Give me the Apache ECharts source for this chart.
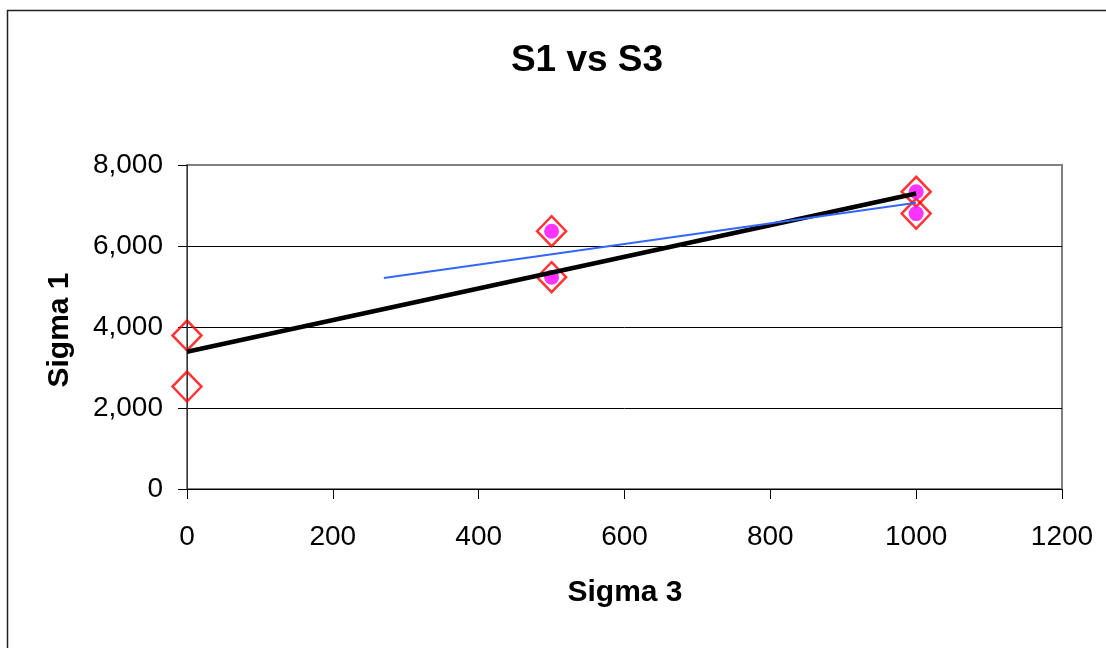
<!DOCTYPE html>
<html>
<head>
<meta charset="utf-8">
<style>
  html, body { margin: 0; padding: 0; background: #fff; }
  #chart { width: 1106px; height: 648px; }
</style>
<script src="https://cdn.jsdelivr.net/npm/echarts@6/dist/echarts.min.js"></script>
</head>
<body>
<div id="chart"></div>
<script>
// Test readings: Sigma 3 (confining) vs Sigma 1 (failure)
const sigma3All = [0, 0, 500, 500, 1000, 1000];
const sigma1All = [3790, 2530, 6365, 5230, 7340, 6800];

// Subset shown with filled markers
const sigma3Sub = [500, 500, 1000, 1000];
const sigma1Sub = [6365, 5230, 7340, 6800];

// Axis ranges / ticks
const xTicks = [0, 200, 400, 600, 800, 1000, 1200];
const yTicks = [0, 2000, 4000, 6000, 8000];

// Blue trend line is extended backwards to this Sigma 3
const subTrendStart = 270;

const FONT = 'Liberation Sans, Arial, sans-serif';

function linFit(xs, ys) {
  const n = xs.length;
  const mx = xs.reduce((a, b) => a + b, 0) / n;
  const my = ys.reduce((a, b) => a + b, 0) / n;
  let sxy = 0, sxx = 0;
  for (let i = 0; i < n; i++) {
    sxy += (xs[i] - mx) * (ys[i] - my);
    sxx += (xs[i] - mx) * (xs[i] - mx);
  }
  const slope = sxy / sxx;
  return { slope, intercept: my - slope * mx };
}

const fitAll = linFit(sigma3All, sigma1All);
const fitSub = linFit(sigma3Sub, sigma1Sub);
const xMinAll = Math.min(...sigma3All), xMaxAll = Math.max(...sigma3All);
const xMaxSub = Math.max(...sigma3Sub);

const trendAll = [xMinAll, xMaxAll].map(x => [x, fitAll.intercept + fitAll.slope * x]);
const trendSub = [subTrendStart, xMaxSub].map(x => [x, fitSub.intercept + fitSub.slope * x]);

const chart = echarts.init(document.getElementById('chart'), null, { renderer: 'canvas' });

chart.setOption({
  backgroundColor: '#fff',
  animation: false,
  title: {
    text: 'S1 vs S3',
    left: 582, top: 56, textAlign: 'center', textVerticalAlign: 'middle',
    textStyle: { fontFamily: FONT, fontSize: 37, fontWeight: 'bold', color: '#000' }
  },
  grid: {
    left: 187, top: 165, right: 44, bottom: 159,
    show: true, backgroundColor: '#fff', borderColor: '#808080', borderWidth: 2
  },
  xAxis: {
    type: 'value',
    min: xTicks[0], max: xTicks[xTicks.length - 1], interval: xTicks[1] - xTicks[0],
    axisLine: { show: true, onZero: false, lineStyle: { color: '#000', width: 1 } },
    axisTick: { show: true, inside: false, length: 10, lineStyle: { color: '#000' } },
    axisLabel: { margin: 34, fontFamily: FONT, fontSize: 28, color: '#000', formatter: v => String(v) },
    splitLine: { show: false }
  },
  yAxis: {
    type: 'value',
    min: yTicks[0], max: yTicks[yTicks.length - 1], interval: yTicks[1] - yTicks[0],
    axisLine: { show: true, onZero: false, lineStyle: { color: '#333', width: 1 } },
    axisTick: { show: true, inside: false, length: 9, lineStyle: { color: '#000' } },
    axisLabel: {
      margin: 24, fontFamily: FONT, fontSize: 28, color: '#000',
      formatter: v => v.toLocaleString('en-US')
    },
    splitLine: { show: true, showMaxLine: false, lineStyle: { color: '#000', width: 1 } }
  },
  graphic: [
    {
      type: 'rect', silent: true, z: -1,
      shape: { x: 7.5, y: 10.5, width: 1300, height: 900 },
      style: { fill: 'none', stroke: '#222', lineWidth: 1.5 }
    },
    {
      type: 'text', x: 625, y: 593,
      style: { text: 'Sigma 3', fontFamily: FONT, fontSize: 30, fontWeight: 'bold', fill: '#000', align: 'center', verticalAlign: 'middle' }
    },
    {
      type: 'text', x: 60, y: 330, rotation: Math.PI / 2,
      style: { text: 'Sigma 1', fontFamily: FONT, fontSize: 30, fontWeight: 'bold', fill: '#000', align: 'center', verticalAlign: 'middle' }
    }
  ],
  series: [
    {
      name: 'All readings', type: 'scatter', z: 2,
      symbol: 'diamond', symbolSize: [29, 30],
      itemStyle: { color: 'rgba(255,255,255,0)', borderColor: '#ff0000', borderWidth: 2.5 },
      data: sigma3All.map((x, i) => [x, sigma1All[i]])
    },
    {
      name: 'Subset', type: 'scatter', z: 3,
      symbol: 'circle', symbolSize: 15,
      itemStyle: { color: '#ff00ff' },
      data: sigma3Sub.map((x, i) => [x, sigma1Sub[i]])
    },
    {
      name: 'Trend (all)', type: 'line', z: 4, showSymbol: false, symbol: 'none',
      lineStyle: { color: '#000', width: 4.5 },
      data: trendAll
    },
    {
      name: 'Trend (subset)', type: 'line', z: 4, showSymbol: false, symbol: 'none',
      lineStyle: { color: '#3366ff', width: 2 },
      data: trendSub
    }
  ]
});
</script>
</body>
</html>
